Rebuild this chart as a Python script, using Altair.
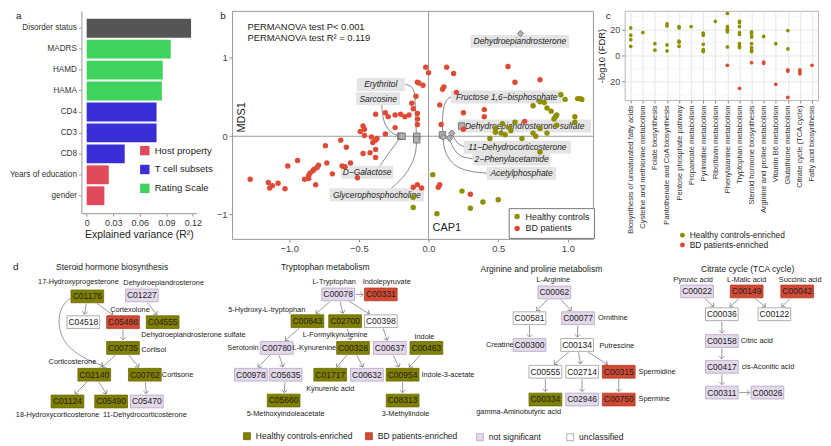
import math
import altair as alt
import pandas as pd

FONT = "Liberation Sans"
OLIVE = "#8E8E00"
RED = "#DD4B36"
INK = "#222222"

# ---------------- panel a data ----------------
a_factors = ["Disorder status", "MADRS", "HAMD", "HAMA", "CD4", "CD3", "CD8",
             "Years of education", "gender"]
a_r2 = [0.118, 0.095, 0.086, 0.085, 0.079, 0.079, 0.043, 0.025, 0.020]
a_group = ["Disorder status", "Rating Scale", "Rating Scale", "Rating Scale",
           "T cell subsets", "T cell subsets", "T cell subsets",
           "Host property", "Host property"]
a_legend = ["Host property", "T cell subsets", "Rating Scale"]

# ---------------- panel b data ----------------
b_hc_x = [0.95, 0.98, 1.07, 1.09, 1.10, 0.75, 0.80, 0.83, 0.85, 0.88, 0.92, 0.91, 0.90,
          1.05, 0.62, 0.53, 0.58, 0.59, 0.48, 0.48, 0.52, 0.55, 0.44, 0.75, 0.77, 0.80,
          0.85, 0.92, 0.80, 0.67, 1.05, 0.03, 0.06, 0.24, 0.30, 0.39, 0.50, -0.11, -0.11]
b_hc_y = [0.53, 0.47, 0.48, 0.48, 0.47, 0.39, 0.44, 0.43, 0.36, 0.32, 0.27, 0.25, 0.22,
          0.25, 0.18, 0.16, 0.11, 0.07, 0.10, 0.05, 0.04, 0.02, -0.03, 0.04, 0.00, 0.10,
          0.04, 0.14, -0.20, -0.03, 0.18, -0.49, -0.99, -0.70, -0.92, -0.84, -0.81, -0.78, -0.91]
b_bd_x = [-0.02, 0.00, 0.13, 0.18, -0.07, -0.04, -0.08, 0.11, 0.10, 0.20, -0.09, -0.12,
          -0.11, 0.08, -0.08, -0.08, -0.08, 0.09, 0.25, 0.40, 0.40, 0.25, 0.57, 0.62, 0.80,
          0.69, -0.38, -0.31, -0.29, -0.24, -0.20, -0.17, -0.14, -0.24, -0.31, -0.47, -0.46,
          -0.49, -0.46, -0.41, -0.38, -0.40, -0.37, -0.63, -0.74, -0.59, -0.47, -0.42, -0.38,
          -0.38, -0.94, -1.01, -0.73, -0.79, -0.80, -0.82, -0.83, -0.85, -0.86, -0.86, -0.89,
          -0.81, -0.62, -0.60, -0.69, -0.51, -0.56, -1.28, -1.15, -1.14, -1.12, -1.08, -1.03,
          -0.11, -0.08, -0.05, 0.07, 0.08, 0.30]
b_bd_y = [0.88, 0.81, 0.88, 0.80, 0.68, 0.65, 0.69, 0.63, 0.60, 0.56, 0.51, 0.42,
          0.35, 0.40, 0.29, 0.22, 0.15, 0.15, 0.30, 0.34, 0.25, 0.09, 0.89, 0.69, 0.72,
          0.19, 0.28, 0.30, 0.25, 0.27, 0.28, 0.25, 0.27, 0.11, 0.03, 0.13, 0.09,
          0.06, 0.01, -0.01, -0.05, -0.08, -0.03, -0.05, -0.12, -0.14, -0.22, -0.21, -0.27,
          -0.17, -0.31, -0.38, -0.34, -0.37, -0.40, -0.42, -0.44, -0.47, -0.50, -0.54, -0.55,
          -0.62, -0.38, -0.39, -0.48, -0.53, -0.34, -0.55, -0.59, -0.66, -0.63, -0.60, -0.67,
          -0.65, -0.62, -0.66, -0.65, -0.62, -0.74]

b_met_name = ["Dehydroepiandrosterone", "Erythritol", "Sarcosine", "Fructose 1,6−bisphosphate",
              "Dehydroepiandrosterone sulfate", "11−Dehydrocorticosterone", "2−Phenylacetamide",
              "Acetylphosphate", "D−Galactose", "Glycerophosphocholine"]
b_met_shape = ["diamond", "square", "square", "square", "square", "diamond", "diamond",
               "diamond", "square", "square"]
b_met_x = [0.66, -0.085, -0.20, 0.10, 0.237, 0.167, 0.15, 0.105, -0.19, -0.085]
b_met_y = [1.31, 0.0, 0.0, 0.017, 0.13, 0.04, -0.025, -0.012, 0.0, -0.046]
b_lab_x = [0.655, -0.343, -0.362, 0.561, 0.69, 0.638, 0.596, 0.667, -0.441, -0.371]
b_lab_y = [1.21, 0.66, 0.48, 0.50, 0.13, -0.14, -0.29, -0.475, -0.46, -0.746]
b_link_x = [[], [-0.167, -0.11, -0.095, -0.088], [-0.336, -0.33, -0.28, -0.21],
            [0.19, 0.12, 0.10, 0.10], [], [0.29, 0.21, 0.17], [0.326, 0.20, 0.15],
            [0.444, 0.20, 0.11, 0.105], [-0.366, -0.30, -0.20],
            [-0.296, -0.16, -0.09, -0.086]]
b_link_y = [[], [0.66, 0.64, 0.50, 0.02], [0.43, 0.20, 0.05, 0.0],
            [0.515, 0.48, 0.30, 0.03], [], [-0.14, -0.12, 0.03], [-0.29, -0.26, -0.03],
            [-0.475, -0.44, -0.20, -0.02], [-0.42, -0.25, -0.01],
            [-0.71, -0.50, -0.25, -0.05]]

# ---------------- panel c data ----------------
c_pathways = ["Biosynthesis of unsaturated fatty acids", "Cysteine and methionine metabolism",
              "Folate biosynthesis", "Pantothenate and CoA biosynthesis",
              "Pentose phosphate pathway", "Propanoate metabolism", "Pyrimidine metabolism",
              "Riboflavin metabolism", "Phenylalanine metabolism", "Tryptophan metabolism",
              "Steroid hormone biosynthesis", "Arginine and proline metabolism",
              "Vitamin B6 metabolism", "Glutathione metabolism", "Citrate cycle (TCA cycle)",
              "Fatty acid biosynthesis"]
c_hc = [[21, 15.5, 12, 7], [17.5], [9, 4], [24, 22.5, 8, 3.5], [22, 21, 11, 10, 7], [22],
        [17, 15.5, 8.5, 4.5, 3.5, 3], [26], [32, 22, 20, 19, 18, 6.5],
        [26, 25, 22, 17.5, 16, 9, 7, 6], [18, 17, 15, 14, 9, 6, 4, 3], [14.5], [9], [19, 5],
        [], []]
c_bd = [[], [], [], [], [], [], [], [], [-7.5], [-25], [-5.5], [-5, -6], [-22],
        [-11, -12, -32], [-11, -12.5, -14], [-7.5]]

# ---------------- panel d data ----------------
d_node_id = ["C01176", "C01227", "C04518", "C05488", "C04555", "C00735", "C02140", "C00762",
             "C01124", "C05490", "C05470",
             "C00078", "C00331", "C00643", "C02700", "C00398", "C00780", "C00328", "C00637",
             "C00463", "C00978", "C05635", "C01717", "C00632", "C00954", "C05660", "C08313",
             "C00062", "C00581", "C00077", "C00300", "C00134", "C00555", "C02714", "C00315",
             "C00334", "C02946", "C00750",
             "C00022", "C00149", "C00042", "C00036", "C00122", "C00158", "C00417", "C00311",
             "C00026"]
d_node_x = [87, 142, 83, 123, 163, 123, 94, 145, 67, 111, 147,
            340, 383, 309, 347, 383, 278, 355, 392, 429, 252, 287, 332, 369, 405, 285, 405,
            558, 533, 582, 533, 581, 549, 586, 623, 549, 586, 623,
            702, 752, 803, 727, 780, 727, 727, 727, 773]
d_node_y = [297, 296, 323, 323, 323, 349, 376, 376, 403, 403, 403,
            295, 295, 322, 322, 322, 349, 349, 349, 349, 376, 376, 376, 376, 376, 402, 402,
            293, 319, 319, 346, 346, 373, 373, 373, 401, 401, 401,
            292, 292, 292, 315, 315, 342, 368, 394, 394]
d_node_status = ["hc", "ns", "un", "bd", "hc", "hc", "hc", "hc", "hc", "hc", "ns",
                 "ns", "bd", "hc", "hc", "un", "ns", "hc", "ns", "hc", "ns", "ns", "hc", "ns",
                 "hc", "hc", "hc",
                 "ns", "un", "ns", "ns", "un", "un", "un", "bd", "hc", "ns", "bd",
                 "ns", "bd", "bd", "un", "un", "ns", "ns", "ns", "ns"]
d_edge_from = ["C01176", "C01176", "C01227", "C05488", "C00735", "C00735", "C02140", "C02140",
               "C00762",
               "C00078", "C00078", "C00078", "C00078", "C00643", "C02700", "C00398", "C00780",
               "C00780", "C00328", "C00328", "C00637", "C00463", "C05635", "C00954",
               "C00062", "C00062", "C00581", "C00077", "C00134", "C00134", "C00134", "C00555",
               "C02714", "C00315",
               "C00022", "C00149", "C00149", "C00042", "C00036", "C00158", "C00417", "C00311"]
d_edge_to = ["C04518", "C05488", "C04555", "C00735", "C02140", "C00762", "C01124", "C05490",
             "C05470",
             "C00331", "C00643", "C02700", "C00398", "C00780", "C00328", "C00637", "C00978",
             "C05635", "C01717", "C00632", "C00954", "C00954", "C05660", "C08313",
             "C00581", "C00077", "C00300", "C00134", "C00555", "C02714", "C00315", "C00334",
             "C02946", "C00750",
             "C00036", "C00036", "C00122", "C00122", "C00158", "C00417", "C00311", "C00026"]
d_curve_x = [70, 60, 57, 64, 84, 103]
d_curve_y = [299, 307, 326, 346, 360, 367]
d_title_text = ["Steroid hormone biosynthesis", "Tryptophan metabolism",
                "Arginine and proline metabolism", "Citrate cycle (TCA cycle)"]
d_title_x = [112, 327, 545, 753]
d_title_y = [267.5, 267.5, 269.5, 269.5]
d_lab_text = ["17-Hydroxyprogesterone", "Dehydroepiandrosterone", "Cortexolone",
              "Dehydroepiandrosterone sulfate", "Cortisol", "Corticosterone", "Cortisone",
              "18-Hydroxycorticosterone", "11-Dehydrocorticosterone",
              "L-Tryptophan", "Indolepyruvate", "5-Hydroxy-L-tryptophan", "L-Formylkynurenine",
              "Indole", "Serotonin", "L-Kynurenine", "Kynurenic acid", "5-Methoxyindoleacetate",
              "3-Methylindole",
              "L-Arginine", "Ornithine", "Creatine", "Putrescine", "gamma-Aminobutyric acid",
              "Pyruvic acid", "L-Malic acid", "Succinic acid"]
d_lab_x = [78, 164, 130, 194, 154, 72, 178, 57, 145,
           336, 389, 268, 337, 427, 244, 316, 332, 287, 408,
           557, 617, 503, 621, 522,
           698, 752, 806]
d_lab_y = [282, 283, 311, 336, 351, 363, 376, 417, 417,
           282, 282, 311, 336, 338, 349, 349, 390, 416, 416,
           280.5, 319, 346, 347, 414,
           280.5, 280.5, 280.5]
d_llab_text = ["Indole-3-acetate", "Spermidine", "Spermine", "Citric acid", "cis-Aconitic acid"]
d_llab_x = [424, 643, 643, 746, 747]
d_llab_y = [376, 373, 401, 342, 368]
d_leg_status = ["hc", "bd", "ns", "un"]
d_leg_text = ["Healthy controls-enriched", "BD patients-enriched", "not significant",
              "unclassified"]
d_leg_x = [248, 371, 483, 574]
d_leg_y = [438, 438, 439, 439]

# =============== panel a ===============
a_df = pd.DataFrame({"factor": a_factors, "r2": a_r2, "group": a_group})
a_bars = alt.Chart(a_df).mark_bar().encode(
    y=alt.Y("factor:N", sort=a_factors,
            scale=alt.Scale(paddingInner=0.1, paddingOuter=0.38),
            axis=alt.Axis(title=None, labelFontSize=8.2, labelColor="#333", tickColor="#999",
                          tickSize=3, domainColor="#aaa", domainWidth=1.2, labelPadding=2,
                          labelLimit=200)),
    x=alt.X("r2:Q", scale=alt.Scale(domain=[-0.006, 0.124], nice=False, zero=False),
            axis=alt.Axis(values=[0, 0.03, 0.06, 0.09, 0.12], format="~g",
                          title="Explained variance (R²)", grid=False, labelFontSize=9,
                          labelColor="#333", titleFontSize=10.5, titleFontWeight="normal",
                          titleColor=INK, tickColor="#999", tickSize=3, domainColor="#aaa",
                          domainWidth=1.2, titlePadding=3, labelPadding=2)),
    x2=alt.datum(0),
    color=alt.Color("group:N",
                    scale=alt.Scale(domain=["Disorder status"] + a_legend,
                                    range=["#555555", "#E2495B", "#3A2FD6", "#3FD35B"]),
                    legend=alt.Legend(values=a_legend, title=None, orient="none", legendX=59,
                                      legendY=136, symbolType="square", symbolSize=90,
                                      symbolStrokeWidth=0, labelFontSize=9.6, labelColor=INK,
                                      rowPadding=9, padding=0, labelOffset=5)),
)
a_letter = alt.Chart(pd.DataFrame({"t": ["a"]})).mark_text(
    fontSize=10, align="left", baseline="top", color=INK
).encode(text="t:N", x=alt.value(-66), y=alt.value(0))
panel_a = alt.layer(a_bars, a_letter).properties(
    width=116, height=204, view=alt.ViewBackground(stroke="transparent"))

# =============== panel b ===============
xsc = alt.Scale(domain=[-1.41, 1.18], nice=False, zero=False)
ysc = alt.Scale(domain=[-1.31, 1.6], nice=False, zero=False)
b_xax = alt.Axis(values=[-1, -0.5, 0, 0.5, 1], format=".1f", title="CAP1", titleX=216,
                 titleY=-17, titleBaseline="top", titleFontSize=11, titleFontWeight="normal",
                 titleColor=INK, labelFontSize=9.5, labelColor="#444", tickColor="#888",
                 tickSize=3, domain=False, grid=False, labelPadding=2)
b_yax = alt.Axis(values=[-1, 0, 1], format="d", title="MDS1", titleX=15, titleY=107,
                 titleAngle=270, titleBaseline="bottom", titleFontSize=11,
                 titleFontWeight="normal", titleColor=INK, labelFontSize=9.5,
                 labelColor="#444", tickColor="#888", tickSize=3, domain=False, grid=False,
                 labelPadding=2)

b_df = pd.concat([
    pd.DataFrame({"x": b_hc_x, "y": b_hc_y, "group": "Healthy controls"}),
    pd.DataFrame({"x": b_bd_x, "y": b_bd_y, "group": "BD patients"}),
])
b_points = alt.Chart(b_df).mark_circle(size=30, opacity=1).encode(
    x=alt.X("x:Q", scale=xsc, axis=b_xax),
    y=alt.Y("y:Q", scale=ysc, axis=b_yax),
    color=alt.Color("group:N",
                    scale=alt.Scale(domain=["Healthy controls", "BD patients"],
                                    range=[OLIVE, RED]),
                    legend=alt.Legend(title=None, orient="none", legendX=279, legendY=199,
                                      strokeColor="#777", fillColor="white", padding=4,
                                      symbolType="circle", symbolSize=30, labelFontSize=9,
                                      labelColor=INK, rowPadding=2, labelOffset=4)),
)
b_vline = alt.Chart(pd.DataFrame({"x": [0]})).mark_rule(color="#999", strokeWidth=1).encode(
    x=alt.X("x:Q", scale=xsc, axis=b_xax))
b_hline = alt.Chart(pd.DataFrame({"y": [0]})).mark_rule(color="#999", strokeWidth=1).encode(
    y=alt.Y("y:Q", scale=ysc, axis=b_yax))

link_rows = []
for name, xs, ys in zip(b_met_name, b_link_x, b_link_y):
    for i, (xv, yv) in enumerate(zip(xs, ys)):
        link_rows.append({"name": name, "seq": i, "x": xv, "y": yv})
b_links = alt.Chart(pd.DataFrame(link_rows)).mark_line(
    color="#555", strokeWidth=0.7, interpolate="basis"
).encode(x=alt.X("x:Q", scale=xsc, axis=b_xax), y=alt.Y("y:Q", scale=ysc, axis=b_yax),
         detail="name:N", order="seq:Q")

b_lab_df = pd.DataFrame({"name": b_met_name, "x": b_lab_x, "y": b_lab_y})
b_boxes = alt.Chart(b_lab_df).transform_calculate(
    xa="datum.x - (length(datum.name) * 4.25 + 6) / 2 / 140.5",
    xb="datum.x + (length(datum.name) * 4.25 + 6) / 2 / 140.5",
    ya="datum.y - 6.5 / 79",
    yb="datum.y + 6.5 / 79",
).mark_rect(color="#e4e4e4").encode(
    x=alt.X("xa:Q", scale=xsc, axis=b_xax), x2="xb:Q",
    y=alt.Y("ya:Q", scale=ysc, axis=b_yax), y2="yb:Q")
b_labels = alt.Chart(b_lab_df).mark_text(
    fontSize=8.5, fontStyle="italic", color=INK, baseline="middle"
).encode(x=alt.X("x:Q", scale=xsc, axis=b_xax), y=alt.Y("y:Q", scale=ysc, axis=b_yax),
         text="name:N")

b_met_df = pd.DataFrame({"name": b_met_name, "x": b_met_x, "y": b_met_y,
                         "shape": b_met_shape})
b_markers = alt.Chart(b_met_df).mark_point(
    filled=True, size=42, fill="#b0b0b0", stroke="#666", strokeWidth=0.8, opacity=1
).encode(x=alt.X("x:Q", scale=xsc, axis=b_xax), y=alt.Y("y:Q", scale=ysc, axis=b_yax),
         shape=alt.Shape("shape:N", scale=alt.Scale(domain=["square", "diamond"],
                                                    range=["square", "diamond"]),
                         legend=None))

b_perm = alt.Chart(pd.DataFrame({
    "x": [-1.30, -1.30], "y": [1.39, 1.255],
    "t": ["PERMANOVA test P< 0.001", "PERMANOVA test R² = 0.119"]})).mark_text(
    fontSize=9.5, align="left", baseline="middle", color=INK
).encode(x=alt.X("x:Q", scale=xsc, axis=b_xax), y=alt.Y("y:Q", scale=ysc, axis=b_yax),
         text="t:N")
b_letter = alt.Chart(pd.DataFrame({"t": ["b"]})).mark_text(
    fontSize=10, align="left", baseline="top", color=INK
).encode(text="t:N", x=alt.value(-12), y=alt.value(0))

panel_b = alt.layer(b_vline, b_hline, b_links, b_boxes, b_labels, b_markers, b_points,
                    b_perm, b_letter).properties(
    width=364, height=230, view=alt.ViewBackground(stroke="#999"))

# =============== panel c ===============
c_rows = []
for p, hv, bv in zip(c_pathways, c_hc, c_bd):
    for v in hv:
        c_rows.append({"pathway": p, "v": v, "group": "Healthy controls-enriched"})
    for v in bv:
        c_rows.append({"pathway": p, "v": v, "group": "BD patients-enriched"})
c_df = pd.DataFrame(c_rows)
csc = alt.Scale(domain=[-34, 34], nice=False, zero=False)
c_yax = alt.Axis(values=[-20, 0, 20], labelExpr="abs(datum.value)", title="-log10 (FDR)",
                 titleFontSize=9.5, titleFontWeight="normal", titleColor=INK,
                 labelFontSize=9, labelColor="#444", gridColor="#e6e6e6", tickColor="#888",
                 tickSize=3, domain=False, titlePadding=3, labelPadding=2)
c_xax = alt.Axis(labelAngle=270, labelFontSize=7.6, labelColor="#333", title=None,
                 labelLimit=300, grid=True, gridColor="#e6e6e6", tickColor="#888",
                 tickSize=3, domain=False, labelPadding=2)
c_minor = alt.Chart(pd.DataFrame({"v": [-30, -10, 10, 30]})).mark_rule(
    color="#f1f1f1", strokeWidth=0.7).encode(y=alt.Y("v:Q", scale=csc, axis=c_yax))
c_pts = alt.Chart(c_df).mark_circle(size=14, opacity=1).encode(
    x=alt.X("pathway:N", sort=c_pathways, axis=c_xax),
    y=alt.Y("v:Q", scale=csc, axis=c_yax),
    color=alt.Color("group:N",
                    scale=alt.Scale(domain=["Healthy controls-enriched", "BD patients-enriched"],
                                    range=[OLIVE, RED]),
                    legend=alt.Legend(title=None, orient="none", legendX=54, legendY=222,
                                      symbolType="circle", symbolSize=25, labelFontSize=8.5,
                                      labelColor=INK, rowPadding=1, padding=0,
                                      labelOffset=3)),
)
c_letter = alt.Chart(pd.DataFrame({"t": ["c"]})).mark_text(
    fontSize=10, align="left", baseline="top", color=INK
).encode(text="t:N", x=alt.value(-19), y=alt.value(0))
panel_c = alt.layer(c_minor, c_pts, c_letter).properties(
    width=195, height=90, view=alt.ViewBackground(stroke="#b5b5b5"))

# =============== panel d ===============
dxs = alt.Scale(domain=[81, 825], nice=False, zero=False)
dys = alt.Scale(domain=[255, 437], nice=False, zero=False, reverse=True)
status_dom = ["hc", "bd", "ns", "un"]
fill_sc = alt.Scale(domain=status_dom, range=["#808000", "#D24A34", "#E3D9EB", "#FFFFFF"])
stroke_sc = alt.Scale(domain=status_dom, range=["#6a6a00", "#B23A26", "#B4A4C4", "#9a9a9a"])
BOX = "M-1,-0.39H1V0.39H-1Z"
SQ = "M-1,-1H1V1H-1Z"
CHEV = "M-1,-1L0,0L1,-1"

nodes = pd.DataFrame({"id": d_node_id, "x": d_node_x, "y": d_node_y, "s": d_node_status})
pos = {n: (x, y) for n, x, y in zip(d_node_id, d_node_x, d_node_y)}
HW, HH = 16.5, 6.5
edge_rows = []
for s, t in zip(d_edge_from, d_edge_to):
    sx, sy = pos[s]
    tx, ty = pos[t]
    dx, dy = tx - sx, ty - sy
    L = math.hypot(dx, dy)
    ux, uy = dx / L, dy / L
    k = min(HW / abs(ux) if ux else 1e9, HH / abs(uy) if uy else 1e9)
    edge_rows.append({"x1": sx + ux * (k + 1), "y1": sy + uy * (k + 1),
                      "x2": tx - ux * (k + 1.5), "y2": ty - uy * (k + 1.5),
                      "ang": math.degrees(math.atan2(-ux, uy)) % 360})
edges = pd.DataFrame(edge_rows)

cux = d_curve_x[-1] - d_curve_x[-2]
cuy = d_curve_y[-1] - d_curve_y[-2]
cl = math.hypot(cux, cuy)
heads = pd.concat([edges[["x2", "y2", "ang"]],
                   pd.DataFrame({"x2": [d_curve_x[-1]], "y2": [d_curve_y[-1]],
                                 "ang": [math.degrees(math.atan2(-cux / cl, cuy / cl)) % 360]})])

d_edges = alt.Chart(edges).mark_rule(color="#808080", strokeWidth=0.8).encode(
    x=alt.X("x1:Q", scale=dxs, axis=None), y=alt.Y("y1:Q", scale=dys, axis=None),
    x2="x2:Q", y2="y2:Q")
d_curve = alt.Chart(pd.DataFrame({"x": d_curve_x, "y": d_curve_y,
                                  "o": list(range(len(d_curve_x)))})).mark_line(
    color="#808080", strokeWidth=0.8, interpolate="basis").encode(
    x=alt.X("x:Q", scale=dxs, axis=None), y=alt.Y("y:Q", scale=dys, axis=None), order="o:Q")
d_heads = alt.Chart(heads).mark_point(shape=CHEV, size=30, filled=False, color="#808080",
                                      strokeWidth=0.8, opacity=1).encode(
    x=alt.X("x2:Q", scale=dxs, axis=None), y=alt.Y("y2:Q", scale=dys, axis=None),
    angle=alt.Angle("ang:Q", scale=None))
d_boxes = alt.Chart(nodes).mark_point(shape=BOX, size=1089, filled=True, strokeWidth=0.8,
                                      opacity=1).encode(
    x=alt.X("x:Q", scale=dxs, axis=None), y=alt.Y("y:Q", scale=dys, axis=None),
    fill=alt.Fill("s:N", scale=fill_sc, legend=None),
    stroke=alt.Stroke("s:N", scale=stroke_sc, legend=None))
d_ids = alt.Chart(nodes).mark_text(fontSize=8.6, color=INK, baseline="middle").encode(
    x=alt.X("x:Q", scale=dxs, axis=None), y=alt.Y("y:Q", scale=dys, axis=None),
    text="id:N")
d_titles = alt.Chart(pd.DataFrame({"t": d_title_text, "x": d_title_x, "y": d_title_y})
                     ).mark_text(fontSize=8.6, color=INK, baseline="middle").encode(
    x=alt.X("x:Q", scale=dxs, axis=None), y=alt.Y("y:Q", scale=dys, axis=None), text="t:N")
d_labels = alt.Chart(pd.DataFrame({"t": d_lab_text, "x": d_lab_x, "y": d_lab_y})
                     ).mark_text(fontSize=7.4, color=INK, baseline="middle").encode(
    x=alt.X("x:Q", scale=dxs, axis=None), y=alt.Y("y:Q", scale=dys, axis=None), text="t:N")
d_llabels = alt.Chart(pd.DataFrame({"t": d_llab_text, "x": d_llab_x, "y": d_llab_y})
                      ).mark_text(fontSize=7.4, color=INK, baseline="middle",
                                  align="left").encode(
    x=alt.X("x:Q", scale=dxs, axis=None), y=alt.Y("y:Q", scale=dys, axis=None), text="t:N")
leg_df = pd.DataFrame({"s": d_leg_status, "t": d_leg_text, "x": d_leg_x, "y": d_leg_y})
d_leg_sq = alt.Chart(leg_df).mark_point(shape=SQ, size=49, filled=True, strokeWidth=0.8,
                                        opacity=1).encode(
    x=alt.X("x:Q", scale=dxs, axis=None), y=alt.Y("y:Q", scale=dys, axis=None),
    fill=alt.Fill("s:N", scale=fill_sc, legend=None),
    stroke=alt.Stroke("s:N", scale=stroke_sc, legend=None))
d_leg_tx = alt.Chart(leg_df).transform_calculate(xt="datum.x + 9").mark_text(
    fontSize=8.6, color=INK, baseline="middle", align="left").encode(
    x=alt.X("xt:Q", scale=dxs, axis=None), y=alt.Y("y:Q", scale=dys, axis=None), text="t:N")
d_letter = alt.Chart(pd.DataFrame({"t": ["d"], "x": [12], "y": [267]})).mark_text(
    fontSize=10, color=INK, baseline="middle", align="left").encode(
    x=alt.X("x:Q", scale=dxs, axis=None), y=alt.Y("y:Q", scale=dys, axis=None), text="t:N")

panel_d = alt.layer(d_edges, d_curve, d_heads, d_boxes, d_ids, d_titles, d_labels,
                    d_llabels, d_leg_sq, d_leg_tx, d_letter).properties(
    width=744, height=182, view=alt.ViewBackground(stroke="transparent"))

top = alt.hconcat(panel_a, panel_b, panel_c, spacing=1).resolve_scale(
    color="independent", shape="independent")
chart = alt.vconcat(top, panel_d, spacing=0).resolve_scale(
    color="independent", shape="independent", fill="independent", stroke="independent"
).properties(padding=0).configure(font=FONT).configure_axis(
    labelFont=FONT, titleFont=FONT).configure_legend(labelFont=FONT).configure_text(font=FONT)

chart.save("out.html", embed_options={"renderer": "svg", "actions": False})
